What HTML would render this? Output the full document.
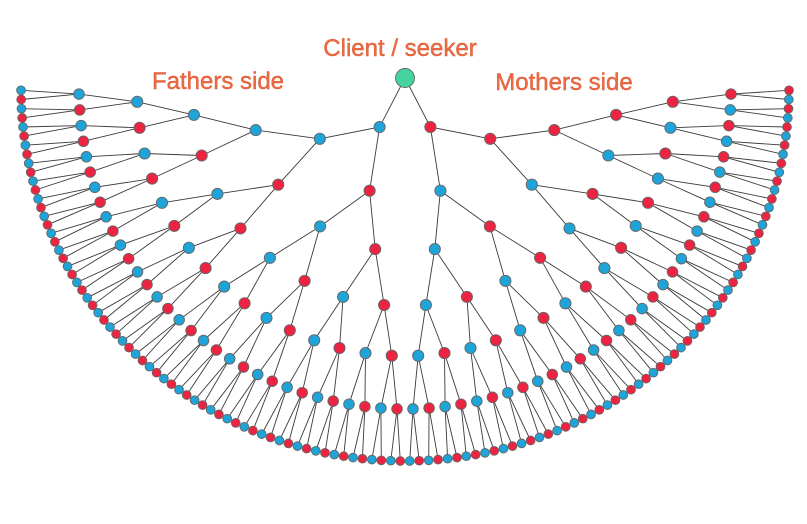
<!DOCTYPE html>
<html><head><meta charset="utf-8"><style>
html,body{margin:0;padding:0;background:#fff;width:807px;height:524px;overflow:hidden}
svg{display:block}
text{font-family:"Liberation Sans",sans-serif;font-size:24px;fill:#ee6a42;stroke:#d9552f;stroke-width:0.4;text-anchor:middle}
</style></head><body>
<svg id="s" width="807" height="524" viewBox="0 0 807 524" xmlns="http://www.w3.org/2000/svg">
<g id="lines" stroke="#3a3a3a" stroke-width="0.9" fill="none"></g>
<g id="nodes" stroke="#666" stroke-width="0.9"></g>
<text x="400" y="56">Client / seeker</text>
<text x="218" y="89">Fathers side</text>
<text x="564" y="90">Mothers side</text>
</svg>
<script>
(function(){
var NS="http://www.w3.org/2000/svg";
var cx=405,cy=89;
var rx=[0,42,92,152,212,268,326,384];
var ry=[0,37,95,150,210,265,320,372];
var off=[0,12,14,13,7,2,0,0];
var G=7,N=128;
var span=181, start=180.5;
var L=document.getElementById('lines'),Nd=document.getElementById('nodes');
function pos(g,idx){
  var cnt=Math.pow(2,G-g);
  var a0=(idx*cnt+ (cnt)/2)*span/N;
  var a=(start-a0)*Math.PI/180;
  if(g==0) return [405,78];
  var k=(g==1)?0.85:1;
  return [cx+rx[g]*k*Math.cos(a), cy+ry[g]*Math.sin(a)+off[g]];
}
var circles=[];
for(var g=1;g<=G;g++){
  var n=Math.pow(2,g);
  for(var i=0;i<n;i++){
    var p=pos(g,i), q=pos(g-1,Math.floor(i/2));
    var l=document.createElementNS(NS,'line');
    l.setAttribute('x1',q[0].toFixed(1));l.setAttribute('y1',q[1].toFixed(1));
    l.setAttribute('x2',p[0].toFixed(1));l.setAttribute('y2',p[1].toFixed(1));
    L.appendChild(l);
    circles.push([p[0],p[1],g==G?4.4:(g==G-1?5.3:5.6),i%2==0?'#1ea4d8':'#ec2442']);
  }
}
circles.push([405,78,9.5,'#45d3a0']);
circles.forEach(function(c){
  var e=document.createElementNS(NS,'circle');
  e.setAttribute('cx',c[0].toFixed(1));e.setAttribute('cy',c[1].toFixed(1));
  e.setAttribute('r',c[2]);e.setAttribute('fill',c[3]);
  Nd.appendChild(e);
});
})();
</script>
</body></html>
